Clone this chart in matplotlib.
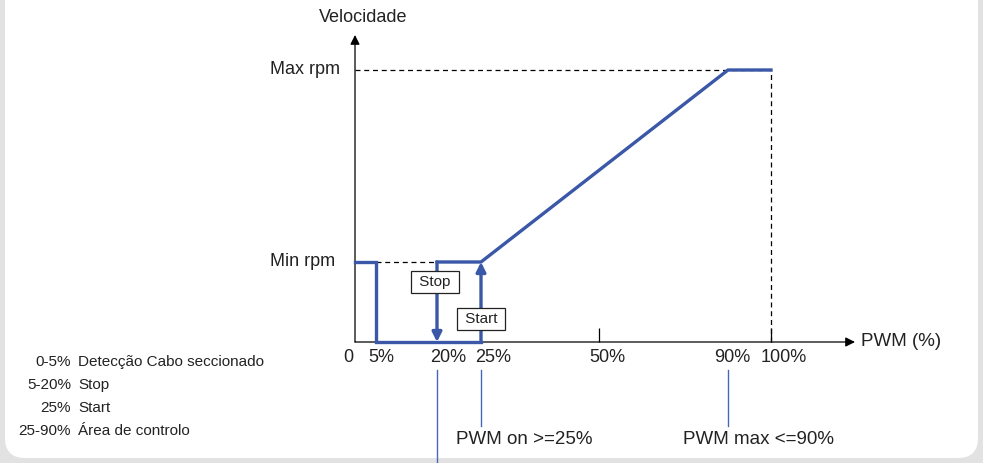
import numpy as np
import matplotlib
matplotlib.use("Agg")
import matplotlib.pyplot as plt
from matplotlib.patches import FancyBboxPatch

plt.rcParams['font.family'] = ['Liberation Sans', 'DejaVu Sans']

# Data (schematic PWM -> speed curve)
pwm_marks = [0, 5, 20, 25, 50, 90, 100]
pwm_labels = ['0', '5%', '20%', '25%', '50%', '90%', '100%']
min_rpm = 1.0
max_rpm = 3.4

curve_low_x = [0, 5, 5, 25]
curve_low_y = [min_rpm, min_rpm, 0, 0]
curve_ctrl_x = [20, 25, 90, 100]
curve_ctrl_y = [min_rpm, min_rpm, max_rpm, max_rpm]
stop_pwm = 20
start_pwm = 25
max_pwm = 90

legend_ranges = ['0-5%', '5-20%', '25%', '25-90%']
legend_texts = ['Detecção Cabo seccionado', 'Stop', 'Start', 'Área de controlo']

# schematic (non linear) x axis: where each mark sits along the axis
axis_frac = np.array([0, 21, 82, 126, 244, 373, 416]) / 416.0

def fwd(x):
    return np.interp(x, pwm_marks, axis_frac)

def inv(p):
    return np.interp(p, axis_frac, pwm_marks)

blue = '#3a57a8'
thin_blue = '#4466bb'
txt = '#222222'

W, H = 983, 463
fig = plt.figure(figsize=(W / 100, H / 100), dpi=100)
fig.patch.set_facecolor('#e2e2e2')
panel = FancyBboxPatch((0.05, 0.05), 9.73, 4.58 + 0.3, boxstyle='round,pad=0,rounding_size=0.2',
                       transform=fig.dpi_scale_trans, facecolor='white', edgecolor='none', zorder=0)
fig.add_artist(panel)

ax = fig.add_axes([355 / W, (H - 342) / H, 416 / W, 272 / H])
ax.set_facecolor('none')
ax.set_xscale('function', functions=(fwd, inv))
ax.set_xlim(0, 100)
ax.set_ylim(0, max_rpm)
for s in ax.spines.values():
    s.set_visible(False)
ax.set_yticks([])
ax.set_xticks([50, 100])
ax.set_xticklabels([])
ax.tick_params(axis='x', direction='in', length=10, width=0.9, color='black')

# axes with arrow heads
ax.annotate('', xy=(500 / 416, 0), xytext=(0, 0), xycoords='axes fraction',
            arrowprops=dict(arrowstyle='-|>', color='black', lw=0.9, mutation_scale=14,
                            shrinkA=0, shrinkB=0), annotation_clip=False)
ax.annotate('', xy=(0, 307 / 272), xytext=(0, 0), xycoords='axes fraction',
            arrowprops=dict(arrowstyle='-|>', color='black', lw=0.9, mutation_scale=14,
                            shrinkA=0, shrinkB=0), annotation_clip=False)

# dashed guides
dash = dict(color='black', lw=0.9, linestyle=(0, (4, 3)), zorder=2, clip_on=False)
ax.plot([0, 100], [max_rpm, max_rpm], **dash)
ax.plot([100, 100], [0, max_rpm], **dash)
ax.plot([5, stop_pwm], [min_rpm, min_rpm], **dash)

# speed curve
ax.plot(curve_low_x, curve_low_y, color=blue, lw=2.4, clip_on=False, zorder=3,
        solid_joinstyle='miter')
ax.plot(curve_ctrl_x, curve_ctrl_y, color=blue, lw=2.4, clip_on=False, zorder=3,
        solid_joinstyle='miter')
ax.annotate('', xy=(stop_pwm, 0), xytext=(stop_pwm, min_rpm),
            arrowprops=dict(arrowstyle='-|>', color=blue, lw=2.4, mutation_scale=14,
                            shrinkA=0, shrinkB=0), zorder=3)
ax.annotate('', xy=(start_pwm, min_rpm), xytext=(start_pwm, 0),
            arrowprops=dict(arrowstyle='-|>', color=blue, lw=2.4, mutation_scale=14,
                            shrinkA=0, shrinkB=0), zorder=3)

# boxes
box = dict(boxstyle='square,pad=0.25', facecolor='white', edgecolor='#222222', lw=0.9)
ax.annotate(' Stop ', xy=(stop_pwm, min_rpm), xytext=(-2, -20), textcoords='offset pixels',
            ha='center', va='center', fontsize=11, color=txt, bbox=box, zorder=4)
ax.annotate(' Start ', xy=(start_pwm, 0), xytext=(0, 23), textcoords='offset pixels',
            ha='center', va='center', fontsize=11, color=txt, bbox=box, zorder=4)

# tick labels (slightly shifted as in the drawing)
label_shift = [-7, 5, 11, 12, 8, 4, 13]
for p, lab, dx in zip(pwm_marks, pwm_labels, label_shift):
    ax.annotate(lab, xy=(p, 0), xytext=(dx, -16), textcoords='offset pixels',
                ha='center', va='center', fontsize=13, color=txt, annotation_clip=False)

ax.annotate('PWM (%)', xy=(1, 0), xycoords='axes fraction', xytext=(90, 0),
            textcoords='offset pixels', ha='left', va='center', fontsize=13.5, color=txt,
            annotation_clip=False)
ax.annotate('Velocidade', xy=(0, 1), xycoords='axes fraction', xytext=(8, 53),
            textcoords='offset pixels', ha='center', va='center', fontsize=13, color=txt,
            annotation_clip=False)
ax.annotate('Max rpm', xy=(0, max_rpm), xytext=(-85, 0), textcoords='offset pixels',
            ha='left', va='center', fontsize=13, color=txt, annotation_clip=False)
ax.annotate('Min rpm', xy=(0, min_rpm), xytext=(-85, 0), textcoords='offset pixels',
            ha='left', va='center', fontsize=13, color=txt, annotation_clip=False)

# pointers below the axis
tr = ax.get_xaxis_transform()
ax.plot([stop_pwm, stop_pwm], [-28 / 272, -130 / 272], color=thin_blue, lw=1.0,
        transform=tr, clip_on=False)
ax.plot([start_pwm, start_pwm], [-28 / 272, -84 / 272], color=thin_blue, lw=1.0,
        transform=tr, clip_on=False)
ax.plot([max_pwm, max_pwm], [-28 / 272, -84 / 272], color=thin_blue, lw=1.0,
        transform=tr, clip_on=False)
ax.annotate('PWM on >=25%', xy=(start_pwm, 0), xytext=(-25, -97), textcoords='offset pixels',
            ha='left', va='center', fontsize=13.5, color=txt, annotation_clip=False)
ax.annotate('PWM max <=90%', xy=(max_pwm, 0), xytext=(-45, -97), textcoords='offset pixels',
            ha='left', va='center', fontsize=13.5, color=txt, annotation_clip=False)

# range legend at bottom left
for i, (r, t) in enumerate(zip(legend_ranges, legend_texts)):
    y = (H - (362 + i * 23)) / H
    fig.text(71 / W, y, r, ha='right', va='center', fontsize=11, color=txt)
    fig.text(78 / W, y, t, ha='left', va='center', fontsize=11, color=txt)

fig.savefig('out.png', dpi=100, facecolor=fig.get_facecolor())
